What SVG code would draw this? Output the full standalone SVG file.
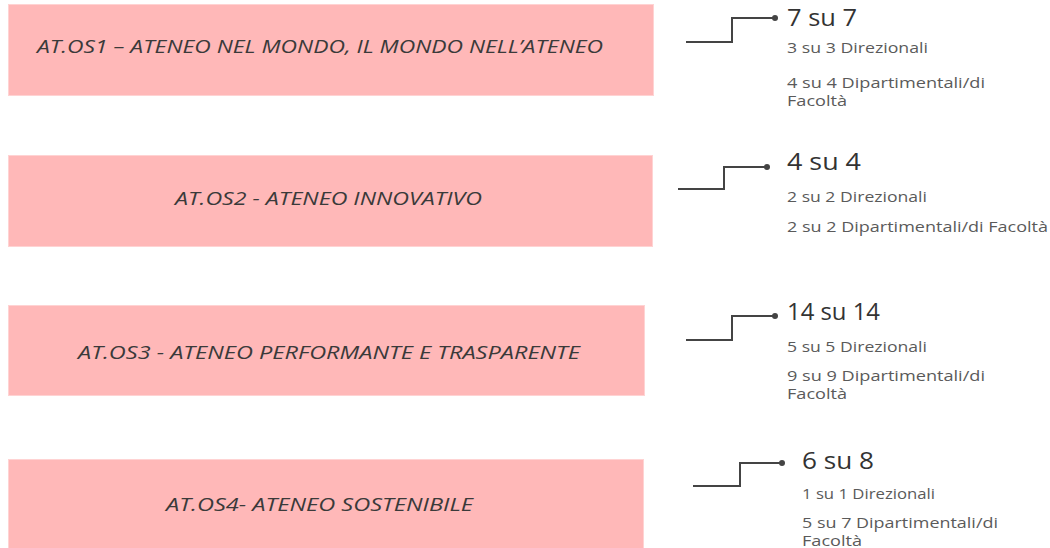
<svg xmlns="http://www.w3.org/2000/svg" width="1050" height="548" viewBox="0 0 1050 548">
<style>
.box{fill:#FFB8B8;stroke:#FFD3D3;stroke-width:1}
.lbl{font-family:"Open Sans","Noto Sans",sans-serif;font-style:italic;font-size:17.5px;fill:#3a3a3a}
.big{font-family:"Open Sans","Noto Sans",sans-serif;font-size:23px;fill:#333}
.sm{font-family:"Open Sans","Noto Sans",sans-serif;font-size:14px;fill:#5a5a5a}
.con{fill:none;stroke:#444;stroke-width:2}
.dot{fill:#444}
</style>
<rect width="1050" height="548" fill="#fff"/>
<g id="os1">
<rect class="box" x="8.5" y="4.5" width="645" height="91"/>
<text class="lbl" x="37" y="53" textLength="566" lengthAdjust="spacingAndGlyphs">AT.OS1 – ATENEO NEL MONDO, IL MONDO NELL’ATENEO</text>
</g>
<g id="os2">
<rect class="box" x="8.5" y="155.5" width="644" height="91"/>
<text class="lbl" x="175" y="205" textLength="307" lengthAdjust="spacingAndGlyphs">AT.OS2 - ATENEO INNOVATIVO</text>
</g>
<g id="os3">
<rect class="box" x="8.5" y="305.5" width="636" height="90"/>
<text class="lbl" x="78" y="359" textLength="502" lengthAdjust="spacingAndGlyphs">AT.OS3 - ATENEO PERFORMANTE E TRASPARENTE</text>
</g>
<g id="os4">
<rect class="box" x="8.5" y="459.5" width="635" height="90"/>
<text class="lbl" x="166" y="511" textLength="307" lengthAdjust="spacingAndGlyphs">AT.OS4- ATENEO SOSTENIBILE</text>
</g>
<g id="connectors">
<path class="con" d="M686 42 H732 V18 H775"/>
<circle class="dot" cx="775" cy="18" r="3"/>
<path class="con" d="M678 189 H724 V167 H767"/>
<circle class="dot" cx="767" cy="167" r="3"/>
<path class="con" d="M686 340 H732 V316 H775"/>
<circle class="dot" cx="775" cy="316" r="3"/>
<path class="con" d="M693 486 H740 V463 H782"/>
<circle class="dot" cx="782" cy="463" r="3"/>
</g>
<g id="r1">
<text class="big" x="787" y="26" textLength="70" lengthAdjust="spacingAndGlyphs">7 su 7</text>
<text class="sm" x="787" y="53" textLength="141" lengthAdjust="spacingAndGlyphs">3 su 3 Direzionali</text>
<text class="sm" x="787" y="88" textLength="198" lengthAdjust="spacingAndGlyphs">4 su 4 Dipartimentali/di</text>
<text class="sm" x="787" y="106" textLength="60" lengthAdjust="spacingAndGlyphs">Facoltà</text>
</g>
<g id="r2">
<text class="big" x="787" y="170" textLength="74" lengthAdjust="spacingAndGlyphs">4 su 4</text>
<text class="sm" x="787" y="202" textLength="140" lengthAdjust="spacingAndGlyphs">2 su 2 Direzionali</text>
<text class="sm" x="787" y="232" textLength="261" lengthAdjust="spacingAndGlyphs">2 su 2 Dipartimentali/di Facoltà</text>
</g>
<g id="r3">
<text class="big" x="787" y="320" textLength="93" lengthAdjust="spacingAndGlyphs">14 su 14</text>
<text class="sm" x="787" y="352" textLength="140" lengthAdjust="spacingAndGlyphs">5 su 5 Direzionali</text>
<text class="sm" x="787" y="381" textLength="198" lengthAdjust="spacingAndGlyphs">9 su 9 Dipartimentali/di</text>
<text class="sm" x="787" y="399" textLength="60" lengthAdjust="spacingAndGlyphs">Facoltà</text>
</g>
<g id="r4">
<text class="big" x="802" y="469" textLength="72" lengthAdjust="spacingAndGlyphs">6 su 8</text>
<text class="sm" x="802" y="499" textLength="133" lengthAdjust="spacingAndGlyphs">1 su 1 Direzionali</text>
<text class="sm" x="802" y="528" textLength="196" lengthAdjust="spacingAndGlyphs">5 su 7 Dipartimentali/di</text>
<text class="sm" x="802" y="546" textLength="60" lengthAdjust="spacingAndGlyphs">Facoltà</text>
</g>
</svg>
